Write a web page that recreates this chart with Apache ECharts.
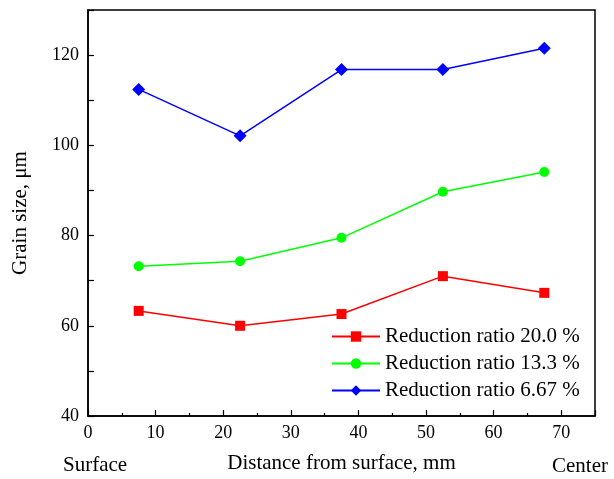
<!DOCTYPE html>
<html><head><meta charset="utf-8">
<script src="https://cdn.jsdelivr.net/npm/echarts@6/dist/echarts.min.js"></script>
<style>html,body{margin:0;padding:0;background:#fff}#c{width:614px;height:479px}</style>
</head><body><div id="c"></div>
<script>
const xValues = [7.5, 22.5, 37.5, 52.5, 67.5];
const seriesNames = ['Reduction ratio 20.0 %', 'Reduction ratio 13.3 %', 'Reduction ratio 6.67 %'];
const red = [63.3, 60.0, 62.6, 71.0, 67.3];
const green = [73.2, 74.3, 79.5, 89.7, 94.1];
const blue = [112.4, 102.1, 116.8, 116.8, 121.5];
const xTitle = 'Distance from surface, mm';
const yTitle = 'Grain size, μm';

const font = '"Liberation Serif", "Times New Roman", serif';
const pair = arr => xValues.map((x, i) => [x, arr[i]]);
const chart = echarts.init(document.getElementById('c'));
chart.setOption({
  animation: false,
  backgroundColor: '#fff',
  grid: {left: 88, right: 19, top: 10, bottom: 60, show: true, borderColor: '#000', borderWidth: 1.5, containLabel: false},
  xAxis: {
    type: 'value', min: 0, max: 75, interval: 10,
    axisLine: {lineStyle: {color: '#000', width: 1.5}},
    axisTick: {inside: true, length: 6, lineStyle: {color: '#000', width: 1.2}},
    minorTick: {show: true, splitNumber: 2, length: 3, lineStyle: {color: '#000', width: 1.2}},
    splitLine: {show: false},
    axisLabel: {color: '#000', fontFamily: font, fontSize: 18, margin: 8,
      formatter: v => (v % 10 === 0 && v <= 70) ? String(v) : ''},
    name: xTitle, nameLocation: 'middle', nameGap: 37,
    nameTextStyle: {color: '#000', fontFamily: font, fontSize: 21}
  },
  yAxis: {
    type: 'value', min: 40, max: 130, interval: 20,
    axisLine: {lineStyle: {color: '#000', width: 1.5}},
    axisTick: {inside: true, length: 6, lineStyle: {color: '#000', width: 1.2}},
    minorTick: {show: true, splitNumber: 2, length: 6, lineStyle: {color: '#000', width: 1.2}},
    splitLine: {show: false},
    axisLabel: {color: '#000', fontFamily: font, fontSize: 18, margin: 9,
      formatter: v => v <= 120 ? String(v) : ''},
    name: yTitle, nameLocation: 'middle', nameGap: 57,
    nameTextStyle: {color: '#000', fontFamily: font, fontSize: 21}
  },
  legend: {
    orient: 'vertical', left: 331, top: 326, itemWidth: 48, itemHeight: 13, itemGap: 6, padding: 0,
    textStyle: {color: '#000', fontFamily: font, fontSize: 21},
    data: seriesNames
  },
  graphic: [
    {type: 'text', left: 63, top: 455, style: {text: 'Surface', font: '21px ' + font, fill: '#000'}},
    {type: 'text', left: 552, top: 456, style: {text: 'Center', font: '21px ' + font, fill: '#000'}}
  ],
  series: [
    {name: seriesNames[0], type: 'line', data: pair(red), symbol: 'rect', symbolSize: 10,
      itemStyle: {color: '#ff0000'}, lineStyle: {color: '#ff0000', width: 1.5}},
    {name: seriesNames[1], type: 'line', data: pair(green), symbol: 'circle', symbolSize: 10,
      itemStyle: {color: '#00ff00'}, lineStyle: {color: '#00ff00', width: 1.5}},
    {name: seriesNames[2], type: 'line', data: pair(blue), symbol: 'diamond', symbolSize: 13,
      itemStyle: {color: '#0000ff'}, lineStyle: {color: '#0000ff', width: 1.5}}
  ]
});
</script></body></html>
